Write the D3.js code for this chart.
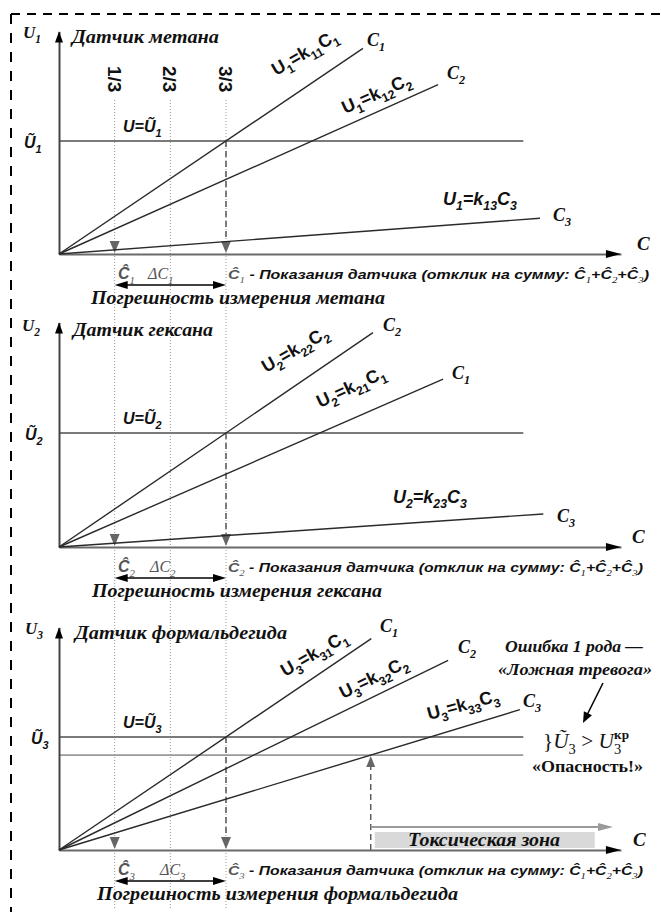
<!DOCTYPE html>
<html>
<head>
<meta charset="utf-8">
<script src="https://cdn.jsdelivr.net/npm/d3@7"></script>
<style>html,body{margin:0;padding:0;background:#fff}</style>
</head>
<body>
<svg id="chart" width="661" height="912"></svg>
<script>
// Cross-sensitivity of three gas sensors: each sensor responds to all three gases.
const sensorTitles = ["Датчик метана", "Датчик гексана", "Датчик формальдегида"];
const errorCaptions = ["Погрешность измерения метана", "Погрешность измерения гексана", "Погрешность измерения формальдегида"];
const fractionLabels = ["1/3", "2/3", "3/3"];
const fractionValues = [1 / 3, 2 / 3, 1];
// gas index of each drawn response line, per sensor
const lineGases = [
  [1, 2, 3],
  [2, 1, 3],
  [1, 2, 3]
];
// k_ij of each drawn line, in units of the threshold reading Ũ_i per unit concentration
const lineSlopes = [
  [1.00, 0.66, 0.11],
  [1.00, 0.64, 0.10],
  [1.00, 0.72, 0.45]
];
// concentration at which each drawn line ends
const lineEnds = [
  [1.82, 2.27, 2.88],
  [1.88, 2.30, 2.90],
  [1.87, 2.33, 2.76]
];
const thresholdLevel = 1;     // U = Ũ_i
const criticalLevel = 0.84;   // U3кр
const axisMaxC = 3.365;
const axisMaxU = 1.97;
const thresholdEndC = 2.78;

const SERIF = "Liberation Serif";
const SANS = "Liberation Sans";
const INK = "#111";

const svg = d3.select("#chart");
svg.append("rect").attr("width", 661).attr("height", 912).attr("fill", "#fff");

// frame: dashed top and left edges
svg.append("line").attr("x1", 11).attr("y1", 14).attr("x2", 661).attr("y2", 14)
  .attr("stroke", "#000").attr("stroke-width", 2).attr("stroke-dasharray", "9,7");
svg.append("line").attr("x1", 11).attr("y1", 14).attr("x2", 11).attr("y2", 912)
  .attr("stroke", "#000").attr("stroke-width", 2).attr("stroke-dasharray", "10,9");

const x = d3.scaleLinear().domain([0, 1]).range([59, 226]);

// panel layout
const axisY = [254, 547, 850];
const thrY = [141, 433, 737];

// Text with sub/superscript runs
function addText(parent, px, py, parts, o = {}) {
  const size = o.size || 16;
  const baseFamily = o.family || SERIF;
  const baseWeight = o.weight || "bold";
  const baseFill = o.fill || INK;
  const t = parent.append("text").attr("x", px).attr("y", py)
    .attr("font-family", baseFamily)
    .attr("font-size", size)
    .attr("font-weight", baseWeight)
    .attr("font-style", o.style || "italic")
    .attr("fill", baseFill);
  if (o.anchor) t.attr("text-anchor", o.anchor);
  if (o.rotate != null) t.attr("transform", `rotate(${o.rotate},${px},${py})`);
  let shift = 0;
  (typeof parts === "string" ? [{ t: parts }] : parts).forEach(p => {
    const s = p.sub ? size * 0.3 : p.sup ? -size * 0.42 : 0;
    const ts = t.append("tspan").text(p.t);
    const dy = s - shift;
    if (dy !== 0) ts.attr("dy", dy);
    if (p.dx) ts.attr("dx", p.dx);
    shift = s;
    if (p.sub || p.sup) ts.attr("font-size", p.size || size * 0.68);
    else if (p.size) ts.attr("font-size", p.size);
    if (p.family) ts.attr("font-family", p.family);
    if (p.weight) ts.attr("font-weight", p.weight);
    if (p.style) ts.attr("font-style", p.style);
    if (p.fill) ts.attr("fill", p.fill);
  });
  if (o.width) t.attr("textLength", o.width).attr("lengthAdjust", "spacingAndGlyphs");
  return t;
}

function arrowHead(parent, tx, ty, dir, len, half, fill) {
  let pts;
  if (dir === "up") pts = [[tx, ty], [tx - half, ty + len], [tx + half, ty + len]];
  else if (dir === "down") pts = [[tx, ty], [tx - half, ty - len], [tx + half, ty - len]];
  else if (dir === "right") pts = [[tx, ty], [tx - len, ty - half], [tx - len, ty + half]];
  else if (dir === "left") pts = [[tx, ty], [tx + len, ty - half], [tx + len, ty + half]];
  else {
    const [ux, uy] = dir;
    const bx = tx - ux * len, by = ty - uy * len;
    pts = [[tx, ty], [bx - uy * half, by + ux * half], [bx + uy * half, by - ux * half]];
  }
  parent.append("path").attr("d", d3.line()(pts) + "Z").attr("fill", fill);
}

// vertical guides at 1/3, 2/3, 3/3 of the full-scale reading, across all panels
const guides = svg.append("g");
fractionValues.forEach((v, i) => {
  guides.append("line")
    .attr("x1", x(v)).attr("x2", x(v)).attr("y1", 100).attr("y2", 910)
    .attr("stroke", "#9a9a9a").attr("stroke-width", 1).attr("stroke-dasharray", "1,2");
  addText(guides, x(v) - 7, 66, fractionLabels[i],
    { family: SANS, size: 19, style: "normal", weight: "bold", rotate: 90 });
});

// layout of the labels on each panel
const formulaLayout = [
  [{ x: 276, y: 76, a: -30 }, { x: 345, y: 114, a: -24 }, { x: 443, y: 205, a: 0 }],
  [{ x: 266, y: 373, a: -30 }, { x: 320, y: 408, a: -25 }, { x: 393, y: 503, a: 0 }],
  [{ x: 285, y: 677, a: -30 }, { x: 343, y: 699, a: -26 }, { x: 429, y: 720, a: -15 }]
];
const endLabelLayout = [
  [[367, 46], [447, 79], [553, 221]],
  [[383, 331], [452, 379], [557, 522]],
  [[380, 632], [458, 653], [523, 707]]
];
const cLabelX = [637, 632, 633];
const titleX = [72, 73, 75];
const titleW = [147, 140, 212];
const uLabelX = [23, 22, 25];
const uTildeX = [24, 25, 31];
const deltaX = [148, 150, 160];
const captionX = [91, 92, 97];
const captionW = [294, 290, 361];

sensorTitles.forEach((title, p) => {
  const g = svg.append("g");
  const y = d3.scaleLinear().domain([0, 1]).range([axisY[p], thrY[p]]);
  const idx = String(p + 1);

  // threshold U = Ũ_i
  g.append("line")
    .attr("x1", x(0)).attr("x2", x(thresholdEndC))
    .attr("y1", y(thresholdLevel)).attr("y2", y(thresholdLevel))
    .attr("stroke", "#7a7a7a").attr("stroke-width", 2.2);

  if (p === 2) {
    // critical level U3кр
    g.append("line")
      .attr("x1", x(0)).attr("x2", x(thresholdEndC))
      .attr("y1", y(criticalLevel)).attr("y2", y(criticalLevel))
      .attr("stroke", "#9a9a9a").attr("stroke-width", 1.6);
  }

  // axes
  const xAxisScale = d3.scaleLinear().domain([0, axisMaxC]).range([x(0), x(axisMaxC)]);
  const xa = g.append("g").attr("transform", `translate(0,${axisY[p]})`)
    .call(d3.axisBottom(xAxisScale).tickValues([]).tickSizeOuter(0));
  xa.select(".domain").attr("stroke", "#6a6a6a").attr("stroke-width", 2.2);
  arrowHead(g, x(axisMaxC), axisY[p], "right", 15, 4, "#000");

  const yAxisScale = d3.scaleLinear().domain([0, axisMaxU]).range([y(0), y(axisMaxU)]);
  const ya = g.append("g").attr("transform", `translate(${x(0)},0)`)
    .call(d3.axisLeft(yAxisScale).tickValues([]).tickSizeOuter(0));
  ya.select(".domain").attr("stroke", "#444").attr("stroke-width", 2);
  arrowHead(g, x(0), y(axisMaxU), "up", 11, 4, "#000");

  // reading at 3/3: dashed drop from the threshold crossing
  g.append("line")
    .attr("x1", x(1)).attr("x2", x(1)).attr("y1", y(thresholdLevel)).attr("y2", y(0) - 10)
    .attr("stroke", "#555").attr("stroke-width", 1.5).attr("stroke-dasharray", "6,4");
  arrowHead(g, x(1), y(0) - 1, "down", 12, 5, "#666");
  arrowHead(g, x(fractionValues[0]), y(0) - 1, "down", 12, 5, "#666");

  // response lines U_i = k_ij C_j
  lineSlopes[p].forEach((k, j) => {
    const c1 = lineEnds[p][j];
    g.append("path")
      .attr("d", d3.line()([[x(0), y(0)], [x(c1), y(k * c1)]]))
      .attr("stroke", "#2a2a2a").attr("stroke-width", 1.4).attr("fill", "none");

    const gas = String(lineGases[p][j]);
    const L = formulaLayout[p][j];
    const horizontalItalic = (j === 2 && p < 2);
    addText(g, L.x, L.y, [
      { t: "U" }, { t: idx, sub: true }, { t: "=k" }, { t: idx + gas, sub: true },
      { t: "C" }, { t: gas, sub: true }
    ], { family: SANS, size: 18, weight: "bold", style: horizontalItalic ? "italic" : "normal", rotate: L.a || null });

    const [ex, ey] = endLabelLayout[p][j];
    addText(g, ex, ey, [{ t: "C" }, { t: gas, sub: true }], { size: 18 });
  });

  // axis names
  addText(g, cLabelX[p], axisY[p] - 4, "C", { size: 19 });
  addText(g, uLabelX[p], axisY[p] - 216, [{ t: "U" }, { t: idx, sub: true }], { size: 17 });
  addText(g, titleX[p], axisY[p] - 211, title, { size: 18, width: titleW[p] });

  // threshold labels
  addText(g, uTildeX[p], thrY[p] + 7, [{ t: "Ũ" }, { t: idx, sub: true }], { family: SANS, size: 16 });
  addText(g, 123, thrY[p] - 9, [{ t: "U=Ũ" }, { t: idx, sub: true }], { family: SANS, size: 16 });

  // reading and error span below the axis
  const by = axisY[p] + 25;
  addText(g, 118, by, [{ t: "Ĉ", family: SANS }, { t: idx, sub: true, weight: "normal" }], { size: 16, fill: "#555" });
  addText(g, deltaX[p], by, [{ t: "ΔC" }, { t: idx, sub: true }], { size: 16, weight: "normal", fill: "#555" });
  addText(g, 228, by, [
    { t: "Ĉ", fill: "#555" }, { t: idx, sub: true, family: SERIF, weight: "normal", fill: "#555" },
    { t: " - Показания датчика (отклик на сумму: " },
    { t: "Ĉ" }, { t: "1", sub: true, family: SERIF, weight: "normal" }, { t: "+Ĉ" }, { t: "2", sub: true, family: SERIF, weight: "normal" },
    { t: "+Ĉ" }, { t: "3", sub: true, family: SERIF, weight: "normal" }, { t: ")" }
  ], { family: SANS, size: 13, width: p === 0 ? 421 : 415 });

  const ay = axisY[p] + 31;
  g.append("line").attr("x1", x(fractionValues[0]) + 10).attr("x2", x(1) - 10)
    .attr("y1", ay).attr("y2", ay).attr("stroke", "#000").attr("stroke-width", 1.3);
  arrowHead(g, x(fractionValues[0]), ay, "left", 13, 4, "#000");
  arrowHead(g, x(1), ay, "right", 13, 4, "#000");

  addText(g, captionX[p], axisY[p] + 50, errorCaptions[p], { size: 18, width: captionW[p] });

  if (p === 2) {
    // false alarm: C3 alone exceeds the critical level
    const k3 = lineSlopes[2][2];
    const cCross = criticalLevel / k3;
    g.append("line")
      .attr("x1", x(cCross)).attr("x2", x(cCross)).attr("y1", y(0)).attr("y2", y(criticalLevel) + 10)
      .attr("stroke", "#555").attr("stroke-width", 1.4).attr("stroke-dasharray", "6,4");
    arrowHead(g, x(cCross), y(criticalLevel) + 1, "up", 11, 4.5, "#666");

    // toxic zone
    const zy = 827;
    g.append("line").attr("x1", x(cCross)).attr("x2", 600).attr("y1", zy).attr("y2", zy)
      .attr("stroke", "#9a9a9a").attr("stroke-width", 2);
    arrowHead(g, 613, zy, "right", 15, 4, "#9a9a9a");
    g.append("rect").attr("x", x(cCross) + 4).attr("y", 832).attr("width", 220).attr("height", 16)
      .attr("fill", "#d9d9d9");
    addText(g, 484, 846, "Токсическая зона", { size: 18, anchor: "middle", width: 152 });

    addText(g, 505, 652, "Ошибка 1 рода —", { size: 17, width: 138 });
    addText(g, 498, 675, "«Ложная тревога»", { size: 17, width: 154 });
    g.append("line").attr("x1", 603).attr("y1", 683).attr("x2", 587).attr("y2", 715)
      .attr("stroke", "#000").attr("stroke-width", 1.5);
    const dx = 583 - 603, dy = 723 - 683, dl = Math.hypot(dx, dy);
    arrowHead(g, 583, 723, [dx / dl, dy / dl], 11, 4.5, "#000");

    addText(g, 543, 748, [
      { t: "}", style: "normal", weight: "normal" }, { t: "Ũ", weight: "normal" }, { t: "3", sub: true, style: "normal", weight: "normal" },
      { t: " > ", style: "normal", weight: "normal" }, { t: "U", weight: "normal" }, { t: "3", sub: true, style: "normal", weight: "normal" },
      { t: "кр", sup: true, dx: -7, style: "normal", weight: "bold", size: 13 }
    ], { size: 21, width: 86 });
    addText(g, 532, 772, "«Опасность!»", { size: 16, style: "normal", width: 111 });
  }
});
</script>
</body>
</html>
